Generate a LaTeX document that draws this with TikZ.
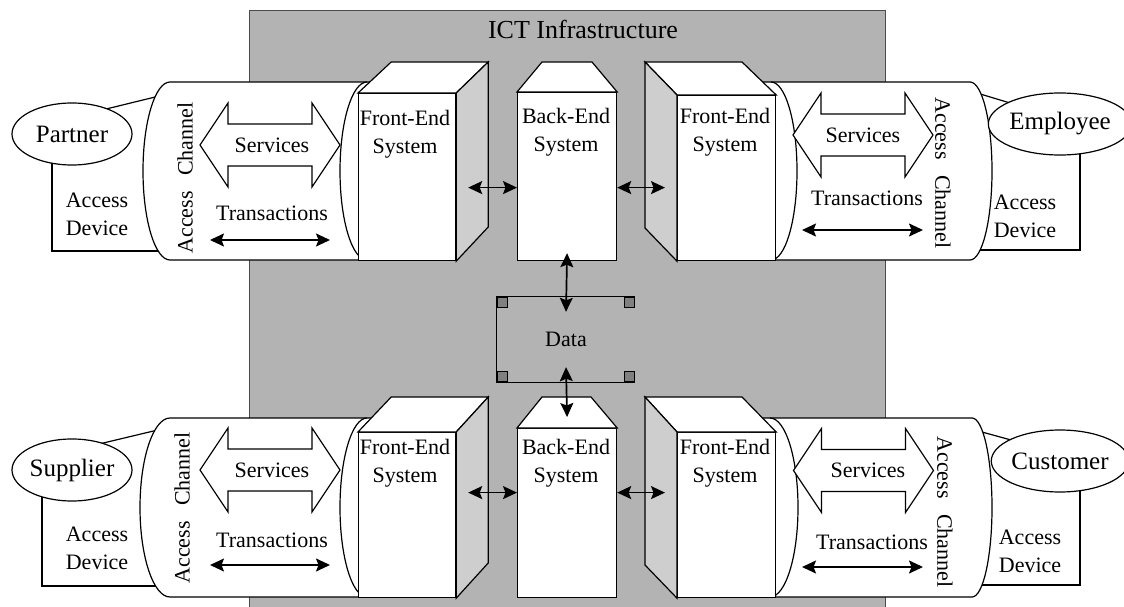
\documentclass[tikz,border=0pt]{standalone}
\usepackage{fontspec}
\setmainfont{Liberation Serif}
\usetikzlibrary{arrows.meta,shapes.geometric,calc}
\definecolor{infra}{RGB}{179,179,179}
\definecolor{sideface}{RGB}{206,206,206}
\definecolor{store}{RGB}{128,128,128}
\tikzset{
  outl/.style={draw=black, line width=1.2pt, line join=miter},
  lbl/.style={inner sep=0pt, font=\fontsize{22}{28}\selectfont, align=center},
  who/.style={ellipse, draw=black, line width=1.2pt, fill=white, minimum width=120pt,
              minimum height=62pt, inner sep=0pt, font=\fontsize{25}{30}\selectfont},
  dbl/.style={{Stealth[length=14pt,width=13pt,inset=2.5pt]}-{Stealth[length=14pt,width=13pt,inset=2.5pt]}, line width=1.7pt},
  face/.style={draw=black, line width=1.2pt, fill=white, inner sep=0pt},
  sq/.style={draw=black, line width=0.9pt, fill=store, minimum size=10pt, inner sep=0pt},
  svc/.pic={\draw[outl, fill=white] (-70,0) -- (-42,-42) -- (-42,-21) -- (42,-21) -- (42,-42)
            -- (70,0) -- (42,42) -- (42,21) -- (-42,21) -- (-42,42) -- cycle;},
}
\begin{document}
\begin{tikzpicture}[x=1pt, y=-1pt]
\useasboundingbox (0,0) rectangle (1124,607);

% ICT infrastructure area
\fill[infra] (249,10) rectangle (885,610);
\draw[gray!60!black, line width=0.8pt] (249,610) -- (249,10) -- (885,10) -- (885,610);
\node[inner sep=0pt, font=\fontsize{26}{30}\selectfont] (ict) at (583,29) {ICT Infrastructure};

% access devices (outlines behind the users and the channels)
\draw[outl] (52,140) -- (52,251) -- (180,251);
\draw[outl] (100,110.5) -- (165,94.6);
\draw[outl] (1080,140) -- (1080,250) -- (960,250);
\draw[outl] (962,88.5) -- (1020,106);
\draw[outl] (42,475) -- (42,586) -- (180,586);
\draw[outl] (95,445) -- (166,428);
\draw[outl] (1080,475) -- (1080,585) -- (960,585);
\draw[outl] (960,426) -- (1022,443);

% access channels (horizontal cylinders)
\fill[white] (400,82) -- (170,82) arc[start angle=270, end angle=90, x radius=27, y radius=89] -- (400,260) -- cycle;
\draw[outl] (400,82) -- (170,82) arc[start angle=270, end angle=90, x radius=27, y radius=89] -- (400,260);
\draw[outl] (367,82) arc[start angle=270, end angle=90, x radius=27, y radius=89];

\fill[white] (730,82) -- (970,82) arc[start angle=270, end angle=450, x radius=22, y radius=89] -- (730,260) -- cycle;
\draw[outl] (730,82) -- (970,82) arc[start angle=270, end angle=450, x radius=22, y radius=89] -- (730,260);
\draw[outl] (771,82) arc[start angle=270, end angle=450, x radius=26, y radius=89];

\fill[white] (400,418) -- (170,418) arc[start angle=270, end angle=90, x radius=30, y radius=89.5] -- (400,597) -- cycle;
\draw[outl] (400,418) -- (170,418) arc[start angle=270, end angle=90, x radius=30, y radius=89.5] -- (400,597);
\draw[outl] (367,418) arc[start angle=270, end angle=90, x radius=27, y radius=89.5];

\fill[white] (730,418) -- (972,418) arc[start angle=270, end angle=450, x radius=20, y radius=89.5] -- (730,597) -- cycle;
\draw[outl] (730,418) -- (972,418) arc[start angle=270, end angle=450, x radius=20, y radius=89.5] -- (730,597);
\draw[outl] (770,418) arc[start angle=270, end angle=450, x radius=28, y radius=89.5];

% front-end and back-end systems
\node[face, minimum width=97pt, minimum height=167pt, anchor=north west] (fe1) at (358,93) {};
\draw[outl, fill=white] (fe1.north west) -- (fe1.north east) -- ++(32,-31) -- ++(-97,0) -- cycle;
\draw[outl, fill=sideface] (fe1.north east) -- ++(32,-31) -- ++(0,165) -- (fe1.south east) -- cycle;

\node[face, minimum width=99pt, minimum height=168pt, anchor=north west] (be1) at (517,92) {};
\draw[outl, fill=white] (be1.north west) -- ++(25,-30) -- ++(50,0) -- (be1.north east) -- cycle;

\node[face, minimum width=98pt, minimum height=165pt, anchor=north west] (fe2) at (677,95) {};
\draw[outl, fill=white] (fe2.north west) -- ++(-32,-33) -- ++(97,0) -- (fe2.north east) -- cycle;
\draw[outl, fill=sideface] (fe2.north west) -- ++(-32,-33) -- ++(0,166) -- (fe2.south west) -- cycle;

\node[face, minimum width=97pt, minimum height=165pt, anchor=north west] (fe3) at (358,432) {};
\draw[outl, fill=white] (fe3.north west) -- (fe3.north east) -- ++(32,-35) -- ++(-97,0) -- cycle;
\draw[outl, fill=sideface] (fe3.north east) -- ++(32,-35) -- ++(0,166) -- (fe3.south east) -- cycle;

\node[face, minimum width=99pt, minimum height=169pt, anchor=north west] (be2) at (517,428) {};
\draw[outl, fill=white] (be2.north west) -- ++(25,-31) -- ++(49,0) -- (be2.north east) -- cycle;

\node[face, minimum width=98pt, minimum height=165pt, anchor=north west] (fe4) at (677,432) {};
\draw[outl, fill=white] (fe4.north west) -- ++(-32,-35) -- ++(97,0) -- (fe4.north east) -- cycle;
\draw[outl, fill=sideface] (fe4.north west) -- ++(-32,-35) -- ++(0,168) -- (fe4.south west) -- cycle;

\node[lbl] (fe1t) at (405,134) {Front-End\\System};
\node[lbl] (be1t) at (566,132) {Back-End\\System};
\node[lbl] (fe2t) at (725,132) {Front-End\\System};
\node[lbl] (fe3t) at (405,463) {Front-End\\System};
\node[lbl] (be2t) at (566,463) {Back-End\\System};
\node[lbl] (fe4t) at (725,463) {Front-End\\System};

% links between the systems
\draw[dbl] ([shift={(12,10.5)}]fe1.east) -- ([shift={(0,11)}]be1.west);
\draw[dbl] ([shift={(0,11)}]be1.east) -- ([shift={(-12,9.5)}]fe2.west);
\draw[dbl] ([shift={(12,-22.5)}]fe3.east) -- ([shift={(0,-20.5)}]be2.west);
\draw[dbl] ([shift={(0,-20.5)}]be2.east) -- ([shift={(-12,-22.5)}]fe4.west);

% data store
\node[minimum width=138pt, minimum height=85pt, inner sep=0pt,
      font=\fontsize{22}{26}\selectfont] (data) at (566,339.5) {Data};
\draw[outl] (data.north east) -- (data.north west) -- (data.south west) -- (data.south east);
\foreach \c in {north west, north east, south west, south east}
  \node[sq, anchor=\c] at (data.\c) {};
\draw[dbl] ([yshift=8pt]be1.south) -- ([yshift=-15pt]data.north);
\draw[dbl] ([yshift=15pt]data.south) -- ([yshift=11pt]be2.north);

% users
\node[who] (partner) at (72,134) {Partner};
\node[who] (employee) at (1060,124) {Employee};
\node[who] (supplier) at (72,470) {Supplier};
\node[who] (customer) at (1060,461) {Customer};

\node[lbl] (devTL) at (97,214) {Access\\Device};
\node[lbl] (devTR) at (1025,216) {Access\\Device};
\node[lbl] (devBL) at (97,548) {Access\\Device};
\node[lbl] (devBR) at (1030,551) {Access\\Device};

\node[lbl, rotate=90] (chTL) at (185,178) {Access\hspace{10pt} Channel};
\node[lbl, rotate=-90] (chTR) at (943,173) {Access\hspace{10pt} Channel};
\node[lbl, rotate=90] (chBL) at (182,508) {Access\hspace{10pt} Channel};
\node[lbl, rotate=-90] (chBR) at (945,512) {Access\hspace{10pt} Channel};

% services and transactions
\pic at (270,145) {svc};
\pic at (863,135) {svc};
\pic at (270,470) {svc};
\pic at (863.5,470.5) {svc};
\node[lbl] (svTL) at (272,145) {Services};
\node[lbl] (svTR) at (863,135) {Services};
\node[lbl] (svBL) at (272,470) {Services};
\node[lbl] (svBR) at (868,470) {Services};

\node[lbl] (trTL) at (272,213) {Transactions};
\node[lbl] (trTR) at (867,198) {Transactions};
\node[lbl] (trBL) at (272,540) {Transactions};
\node[lbl] (trBR) at (872,542) {Transactions};

\coordinate (tTLa) at (210,240);  \coordinate (tTLb) at (330,240);
\coordinate (tTRa) at (802,230);  \coordinate (tTRb) at (923,230);
\coordinate (tBLa) at (210,565);  \coordinate (tBLb) at (330,565);
\coordinate (tBRa) at (802,567);  \coordinate (tBRb) at (923,567);
\draw[dbl] (tTLa) -- (tTLb);
\draw[dbl] (tTRa) -- (tTRb);
\draw[dbl] (tBLa) -- (tBLb);
\draw[dbl] (tBRa) -- (tBRb);
\end{tikzpicture}
\end{document}
